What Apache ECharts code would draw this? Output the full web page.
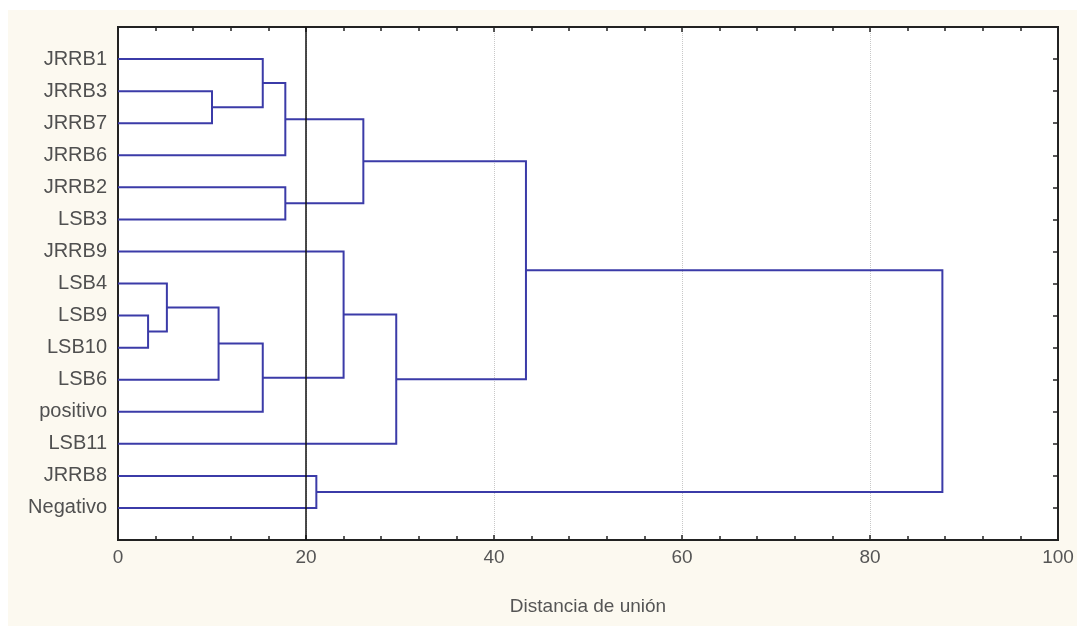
<!DOCTYPE html>
<html>
<head>
<meta charset="utf-8">
<script src="https://cdn.jsdelivr.net/npm/echarts@6/dist/echarts.min.js"></script>
<style>
html,body{margin:0;padding:0;background:#ffffff;}
#chart{width:1077px;height:626px;}
</style>
</head>
<body>
<div id="chart"></div>
<script>
// Leaves (top to bottom)
const leaves = ['JRRB1','JRRB3','JRRB7','JRRB6','JRRB2','LSB3','JRRB9','LSB4','LSB9','LSB10','LSB6','positivo','LSB11','JRRB8','Negativo'];
// Linkage: ids 0..14 are leaves, merge k creates id 15+k
const mergeA = [8, 7, 1, 16, 0, 18, 19, 4, 13, 6, 21, 24, 25, 27];
const mergeB = [9, 15, 2, 10, 17, 11, 3, 5, 14, 20, 22, 12, 26, 23];
const mergeHeight = [3.2, 5.2, 10.0, 10.7, 15.4, 15.4, 17.8, 17.8, 21.1, 24.0, 26.1, 29.6, 43.4, 87.7];
const xTicks = [0, 20, 40, 60, 80, 100];
const cutLevel = 20;

// node positions: x = height, y = leaf order (mid of children)
const nodeX = leaves.map(() => 0);
const nodeY = leaves.map((_, i) => i);
const segs = [];
for (let k = 0; k < mergeA.length; k++) {
  const a = mergeA[k], b = mergeB[k], h = mergeHeight[k];
  segs.push([nodeX[a], nodeY[a], nodeX[b], nodeY[b], h]);
  nodeX.push(h);
  nodeY.push((nodeY[a] + nodeY[b]) / 2);
}

const chart = echarts.init(document.getElementById('chart'));
const labelFont = 'Liberation Sans, Arial, sans-serif';
const axisLine = {show: true, onZero: false, lineStyle: {color: '#222', width: 2}};
const tick = {show: true, inside: true, length: 5, lineStyle: {color: '#222', width: 1.5}};
chart.setOption({
  animation: false,
  backgroundColor: '#ffffff',
  graphic: [{
    type: 'rect', z: -10, silent: true,
    shape: {x: 8, y: 10, width: 1077, height: 626},
    style: {fill: '#fcf9f0'}
  }],
  grid: {
    left: 118, right: 19, top: 27, bottom: 86,
    show: true, backgroundColor: '#ffffff', borderColor: '#222', borderWidth: 2
  },
  xAxis: [{
    type: 'value', min: 0, max: 100, interval: 20,
    name: 'Distancia de unión', nameLocation: 'middle', nameGap: 57,
    nameTextStyle: {fontSize: 19, color: '#555', fontFamily: labelFont},
    axisLine: axisLine,
    axisTick: tick,
    minorTick: {show: true, splitNumber: 5, length: 4, lineStyle: {color: '#222', width: 1.5}},
    axisLabel: {fontSize: 19, color: '#555', margin: 8, fontFamily: labelFont,
      formatter: v => xTicks.includes(v) ? String(v) : ''},
    splitLine: {show: true, lineStyle: {color: '#c8c8c8', type: 'dotted', width: 1}}
  }, {
    type: 'value', min: 0, max: 100, interval: 20, position: 'top',
    axisLine: axisLine,
    axisTick: tick,
    minorTick: {show: true, splitNumber: 5, length: 4, lineStyle: {color: '#222', width: 1.5}},
    axisLabel: {show: false}, splitLine: {show: false}
  }],
  yAxis: [{
    type: 'value', inverse: true, min: -1, max: 15, interval: 1,
    axisLine: axisLine,
    axisTick: {show: false},
    axisLabel: {fontSize: 20, color: '#505050', margin: 11, fontFamily: labelFont,
      formatter: v => (v >= 0 && v < leaves.length) ? leaves[v] : ''},
    splitLine: {show: false}
  }, {
    type: 'value', inverse: true, min: -1, max: 15, interval: 1, position: 'right',
    axisLine: axisLine,
    axisTick: tick,
    axisLabel: {show: false}, splitLine: {show: false}
  }],
  series: [{
    type: 'custom',
    xAxisIndex: 0, yAxisIndex: 0,
    data: segs,
    renderItem: function (params, api) {
      const p1 = api.coord([api.value(0), api.value(1)]);
      const p2 = api.coord([api.value(4), api.value(1)]);
      const p3 = api.coord([api.value(4), api.value(3)]);
      const p4 = api.coord([api.value(2), api.value(3)]);
      return {
        type: 'polyline',
        shape: {points: [p1, p2, p3, p4]},
        style: {stroke: '#3b3ba8', lineWidth: 2, fill: null}
      };
    },
    markLine: {
      silent: true, symbol: 'none', label: {show: false},
      lineStyle: {color: '#111', width: 1.5, type: 'solid'},
      data: [{xAxis: cutLevel}]
    },
    z: 3
  }]
});
</script>
</body>
</html>
